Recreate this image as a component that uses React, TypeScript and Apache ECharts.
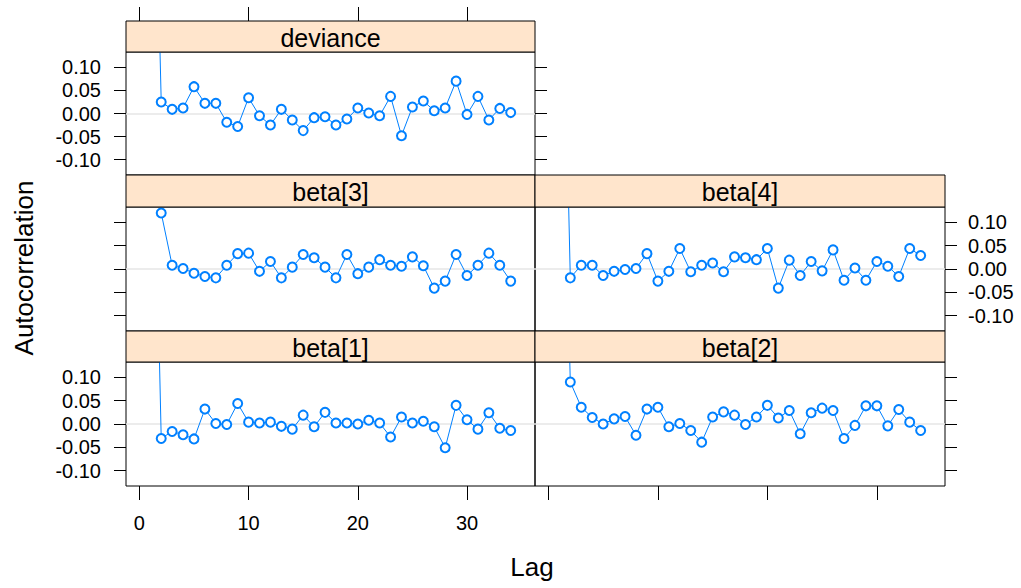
import React, { useEffect, useRef } from "react";
import * as echarts from "echarts";

const lags = [1, 2, 3, 4, 5, 6, 7, 8, 9, 10, 11, 12, 13, 14, 15, 16, 17, 18, 19, 20, 21, 22, 23, 24, 25, 26, 27, 28, 29, 30, 31, 32, 33, 34];

const devianceAcf = [1, 0.025, 0.009, 0.012, 0.058, 0.022, 0.022, -0.019, -0.028, 0.034, -0.005, -0.025, 0.009, -0.014, -0.037, -0.009, -0.007, -0.025, -0.012, 0.012, 0.001, -0.005, 0.037, -0.048, 0.014, 0.027, 0.006, 0.012, 0.07, -0.002, 0.037, -0.014, 0.011, 0.002];
const beta3Acf = [1, 0.12, 0.008, 0.001, -0.009, -0.016, -0.019, 0.008, 0.033, 0.034, -0.005, 0.016, -0.019, 0.004, 0.031, 0.024, 0.004, -0.019, 0.031, -0.01, 0.004, 0.02, 0.008, 0.006, 0.026, 0.007, -0.041, -0.026, 0.031, -0.014, 0.008, 0.034, 0.008, -0.026];
const beta4Acf = [1, -0.019, 0.008, 0.008, -0.014, -0.005, -0.001, 0.001, 0.033, -0.026, -0.005, 0.044, -0.006, 0.008, 0.013, -0.006, 0.026, 0.024, 0.02, 0.044, -0.041, 0.019, -0.014, 0.016, -0.004, 0.041, -0.024, 0.002, -0.024, 0.016, 0.006, -0.016, 0.044, 0.029];
const beta1Acf = [1, -0.031, -0.016, -0.023, -0.032, 0.032, 0.001, -0.001, 0.044, 0.004, 0.002, 0.004, -0.005, -0.011, 0.019, -0.006, 0.025, 0.002, 0.002, 0.0, 0.008, 0.002, -0.028, 0.015, 0.002, 0.006, -0.006, -0.051, 0.04, 0.009, -0.011, 0.024, -0.009, -0.014];
const beta2Acf = [1, 0.09, 0.036, 0.014, 0.0, 0.011, 0.016, -0.024, 0.032, 0.036, -0.006, 0.001, -0.014, -0.039, 0.015, 0.026, 0.019, -0.001, 0.015, 0.04, 0.013, 0.029, -0.021, 0.024, 0.034, 0.029, -0.031, -0.003, 0.039, 0.039, -0.004, 0.031, 0.004, -0.014];

const panelNames = ["deviance", "beta[3]", "beta[4]", "beta[1]", "beta[2]"];
const yTickValues = [-0.1, -0.05, 0, 0.05, 0.1];
const xTickValues = [0, 10, 20, 30];
const X_MIN = -1.225;
const X_MAX = 36.225;
const Y_MIN = -0.133;
const Y_MAX = 0.133;

const W = 1021;
const H = 588;
const COLS = [
  { left: 126, right: 535 },
  { left: 535, right: 945 },
];
const ROWS = [
  { strip: 21, top: 52, bottom: 175 },
  { strip: 175, top: 207, bottom: 331 },
  { strip: 331, top: 362, bottom: 486 },
];

const FONT = "'Liberation Sans', Arial, sans-serif";
const BLUE = "#0080ff";

type Panel = {
  name: string;
  data: number[];
  col: number;
  row: number;
  leftTicks: boolean;
  leftLabels: boolean;
  rightTicks: boolean;
  rightLabels: boolean;
  topTicks: boolean;
  bottomTicks: boolean;
  bottomLabels: boolean;
};

const panels: Panel[] = [
  { name: panelNames[0], data: devianceAcf, col: 0, row: 0, leftTicks: true, leftLabels: true, rightTicks: true, rightLabels: false, topTicks: true, bottomTicks: false, bottomLabels: false },
  { name: panelNames[1], data: beta3Acf, col: 0, row: 1, leftTicks: true, leftLabels: false, rightTicks: false, rightLabels: false, topTicks: false, bottomTicks: false, bottomLabels: false },
  { name: panelNames[2], data: beta4Acf, col: 1, row: 1, leftTicks: false, leftLabels: false, rightTicks: true, rightLabels: true, topTicks: false, bottomTicks: false, bottomLabels: false },
  { name: panelNames[3], data: beta1Acf, col: 0, row: 2, leftTicks: true, leftLabels: true, rightTicks: false, rightLabels: false, topTicks: false, bottomTicks: true, bottomLabels: true },
  { name: panelNames[4], data: beta2Acf, col: 1, row: 2, leftTicks: false, leftLabels: false, rightTicks: true, rightLabels: false, topTicks: false, bottomTicks: true, bottomLabels: false },
];

function fmt(v: number) {
  return v.toFixed(2);
}

const tickStyle = { color: "#000", width: 1 };
const labelBase = { fontSize: 20, fontFamily: FONT, color: "#000" };

function buildOption() {
  const grid: any[] = [];
  const xAxis: any[] = [];
  const yAxis: any[] = [];
  const series: any[] = [];
  const graphic: any[] = [];

  panels.forEach((p, i) => {
    const c = COLS[p.col];
    const r = ROWS[p.row];
    grid.push({
      left: c.left,
      top: r.top,
      width: c.right - c.left,
      height: r.bottom - r.top,
      show: true,
      borderColor: "#000",
      borderWidth: 1,
      backgroundColor: "transparent",
      containLabel: false,
    });
    const xIdx = xAxis.length;
    xAxis.push({
      type: "value",
      gridIndex: i,
      min: X_MIN,
      max: X_MAX,
      position: "bottom",
      show: p.bottomTicks,
      axisLine: { show: false, onZero: false },
      splitLine: { show: false },
      axisTick: {
        show: p.bottomTicks,
        inside: false,
        length: 14,
        lineStyle: tickStyle,
        customValues: xTickValues,
      },
      axisLabel: {
        ...labelBase,
        show: p.bottomLabels,
        margin: 27,
        customValues: xTickValues,
        formatter: (v: number) => String(v),
      },
    });
    if (p.topTicks) {
      xAxis.push({
        type: "value",
        gridIndex: i,
        min: X_MIN,
        max: X_MAX,
        position: "top",
        offset: r.top - r.strip,
        axisLine: { show: false, onZero: false },
        splitLine: { show: false },
        axisTick: {
          show: true,
          inside: false,
          length: 14,
          lineStyle: tickStyle,
          customValues: xTickValues,
        },
        axisLabel: { show: false },
      });
    }
    const yIdx = yAxis.length;
    yAxis.push({
      type: "value",
      gridIndex: i,
      min: Y_MIN,
      max: Y_MAX,
      position: "left",
      show: p.leftTicks,
      axisLine: { show: false, onZero: false },
      splitLine: { show: false },
      axisTick: {
        show: p.leftTicks,
        inside: false,
        length: 12,
        lineStyle: tickStyle,
        customValues: yTickValues,
      },
      axisLabel: {
        ...labelBase,
        show: p.leftLabels,
        margin: 25,
        customValues: yTickValues,
        formatter: fmt,
      },
    });
    yAxis.push({
      type: "value",
      gridIndex: i,
      min: Y_MIN,
      max: Y_MAX,
      position: "right",
      show: p.rightTicks,
      axisLine: { show: false, onZero: false },
      splitLine: { show: false },
      axisTick: {
        show: p.rightTicks,
        inside: false,
        length: 12,
        lineStyle: tickStyle,
        customValues: yTickValues,
      },
      axisLabel: {
        ...labelBase,
        show: p.rightLabels,
        margin: 23,
        customValues: yTickValues,
        formatter: fmt,
      },
    });
    series.push({
      type: "line",
      name: p.name,
      xAxisIndex: xIdx,
      yAxisIndex: yIdx,
      data: lags.map((l, k) => [l, p.data[k]]),
      clip: true,
      symbol: "emptyCircle",
      symbolSize: 9,
      showAllSymbol: true,
      lineStyle: { color: BLUE, width: 1 },
      itemStyle: { color: BLUE, borderWidth: 1 },
      emphasis: { disabled: true },
      markLine: {
        silent: true,
        symbol: ["none", "none"],
        label: { show: false },
        lineStyle: { color: "#e6e6e6", type: "solid", width: 1.5 },
        data: [{ yAxis: 0 }],
        z: 1,
      },
      z: 3,
    });
    graphic.push({
      type: "rect",
      shape: { x: c.left, y: r.strip, width: c.right - c.left, height: r.top - r.strip },
      style: { fill: "#ffe5cc", stroke: "#000", lineWidth: 1 },
      z: 10,
    });
    graphic.push({
      type: "text",
      x: (c.left + c.right) / 2,
      y: (r.strip + r.top) / 2 + 1,
      style: {
        text: p.name,
        fontSize: 25,
        fontFamily: FONT,
        fill: "#000",
        align: "center",
        verticalAlign: "middle",
      },
      z: 11,
    });
  });

  graphic.push({
    type: "text",
    x: 24,
    y: 268,
    rotation: Math.PI / 2,
    style: {
      text: "Autocorrelation",
      fontSize: 26,
      fontFamily: FONT,
      fill: "#000",
      align: "center",
      verticalAlign: "middle",
    },
  });
  graphic.push({
    type: "text",
    x: 532,
    y: 567,
    style: {
      text: "Lag",
      fontSize: 26,
      fontFamily: FONT,
      fill: "#000",
      align: "center",
      verticalAlign: "middle",
    },
  });

  return {
    animation: false,
    backgroundColor: "#fff",
    grid,
    xAxis,
    yAxis,
    series,
    graphic,
  };
}

export default function App() {
  const ref = useRef<HTMLDivElement>(null);
  useEffect(() => {
    document.body.style.margin = "0";
    const chart = echarts.init(ref.current!, undefined, { renderer: "svg" });
    chart.setOption(buildOption());
    return () => chart.dispose();
  }, []);
  return <div ref={ref} style={{ width: W, height: H, position: "absolute", left: 0, top: 0 }} />;
}
